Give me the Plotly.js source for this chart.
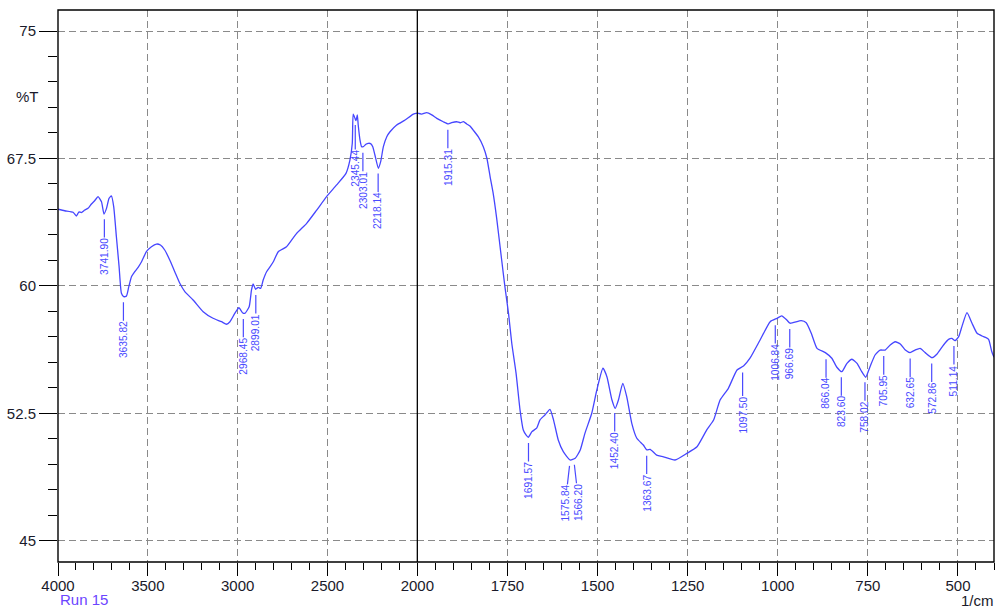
<!DOCTYPE html>
<html>
<head>
<meta charset="utf-8">
<script src="https://cdn.plot.ly/plotly-3.0.1.min.js"></script>
<style>
  html, body { margin: 0; padding: 0; background: #fff; }
  #chart { width: 998px; height: 611px; }
</style>
</head>
<body>
<div id="chart"></div>
<script>
// ---- Data: high wavenumber part (4000 -> 2000 1/cm) ----
const leftWavenumber = [4000, 3963, 3916, 3898, 3883, 3870, 3851, 3833, 3814, 3796, 3777, 3758, 3744, 3730, 3716, 3703, 3690, 3675, 3660, 3647, 3634, 3619, 3606, 3591, 3573, 3554, 3535, 3508, 3480, 3452, 3430, 3406, 3378, 3350, 3322, 3294, 3248, 3192, 3137, 3090, 3062, 3043, 3016, 2993, 2973, 2960, 2936, 2923, 2914, 2900, 2886, 2872, 2858, 2839, 2821, 2800, 2774, 2728, 2672, 2616, 2560, 2505, 2449, 2397, 2375, 2362, 2357, 2347, 2341, 2334, 2329, 2319, 2310, 2301, 2286, 2273, 2260, 2248, 2236, 2217, 2204, 2189, 2170, 2152, 2115, 2068, 2022, 2000];
const leftTransmittance = [64.51, 64.42, 64.33, 64.11, 64.36, 64.31, 64.46, 64.56, 64.82, 65.01, 65.25, 64.95, 64.23, 64.56, 65.15, 65.29, 64.66, 62.89, 61.13, 59.56, 59.36, 59.40, 59.95, 60.54, 60.83, 61.09, 61.42, 62.01, 62.30, 62.46, 62.40, 62.11, 61.52, 60.83, 60.15, 59.66, 59.17, 58.48, 58.09, 57.89, 57.74, 57.89, 58.38, 58.71, 58.42, 58.38, 58.77, 59.76, 60.11, 59.80, 59.91, 59.85, 60.34, 60.83, 61.10, 61.45, 62.01, 62.30, 63.09, 63.68, 64.46, 65.25, 65.94, 66.62, 67.41, 68.39, 70.11, 69.86, 69.72, 70.06, 69.47, 68.58, 68.19, 68.19, 68.33, 68.39, 68.37, 68.19, 67.70, 66.92, 67.31, 68.19, 68.78, 69.07, 69.47, 69.76, 70.11, 70.16];

// ---- Data: low wavenumber part (2000 -> 400 1/cm) ----
const rightWavenumber = [2000, 1988, 1974, 1960, 1946, 1928, 1914, 1905, 1891, 1881, 1872, 1863, 1854, 1845, 1831, 1817, 1807, 1798, 1790, 1780, 1766, 1757, 1747, 1738, 1726, 1715, 1706, 1698, 1692, 1682, 1669, 1660, 1646, 1632, 1622, 1609, 1595, 1576, 1562, 1548, 1535, 1516, 1502, 1485, 1474, 1460, 1451, 1442, 1430, 1419, 1405, 1391, 1373, 1363, 1354, 1336, 1317, 1285, 1252, 1224, 1197, 1178, 1160, 1137, 1113, 1095, 1077, 1049, 1021, 1002, 989, 975, 966, 935, 921, 907, 891, 868, 850, 836, 822, 808, 794, 780, 767, 756, 744, 730, 716, 702, 688, 674, 660, 646, 633, 619, 605, 591, 572, 558, 540, 526, 517, 508, 498, 489, 475, 461, 447, 433, 424, 415, 406, 400];
const rightTransmittance = [70.16, 70.11, 70.19, 70.06, 69.86, 69.66, 69.53, 69.60, 69.66, 69.60, 69.66, 69.53, 69.41, 69.17, 68.78, 68.19, 67.51, 66.42, 65.50, 64.00, 61.52, 59.95, 58.38, 56.62, 54.85, 52.69, 51.52, 51.22, 51.09, 51.42, 51.62, 52.10, 52.40, 52.73, 52.10, 50.93, 50.24, 49.75, 49.85, 50.34, 51.32, 52.50, 53.87, 55.15, 54.65, 53.28, 52.79, 53.28, 54.26, 53.48, 51.91, 51.03, 50.63, 50.34, 50.38, 50.04, 49.94, 49.75, 50.14, 50.53, 51.52, 52.10, 53.28, 53.97, 55.05, 55.28, 55.74, 56.81, 57.89, 58.09, 58.23, 57.99, 57.80, 57.95, 57.83, 57.21, 56.32, 56.07, 55.74, 55.21, 54.95, 55.44, 55.68, 55.44, 54.95, 54.62, 55.24, 55.93, 56.22, 56.22, 56.52, 56.71, 56.58, 56.22, 56.07, 56.22, 56.32, 56.07, 55.77, 55.99, 56.52, 56.85, 56.91, 56.77, 57.01, 57.60, 58.42, 57.80, 57.21, 57.05, 56.97, 56.85, 56.12, 55.80];

// ---- Peak picks ----
const peakWavenumbers = [3741.90, 3635.82, 2968.45, 2899.01, 2345.44, 2303.01, 2218.14, 1915.31, 1691.57, 1575.84, 1566.20, 1452.40, 1363.67, 1097.50, 1006.84, 966.69, 866.04, 823.60, 758.02, 705.95, 632.65, 572.86, 511.14];

// ---- Tick labels ----
const leftTickVals = [4000, 3500, 3000, 2500, 2000];
const rightTickVals = [1750, 1500, 1250, 1000, 750, 500];
const yTickVals = [45, 52.5, 60, 67.5, 75];
const yTickText = ['45', '52.5', '60', '67.5', '75'];

// ---- Styles ----
const CURVE = '#4646ff';
const LABEL = '#4a4aff';
const GRID = '#8a8a8a';
const SPLIT = 0.3839;
const LABEL_FS = 10.2;

function interpT(w) {
  const xs = w >= 2000 ? leftWavenumber : rightWavenumber;
  const ys = w >= 2000 ? leftTransmittance : rightTransmittance;
  for (let i = 0; i < xs.length - 1; i++) {
    const a = xs[i], b = xs[i + 1];
    if (w <= a && w >= b) {
      const t = (a - w) / (a - b);
      return ys[i] + t * (ys[i + 1] - ys[i]);
    }
  }
  return ys[ys.length - 1];
}

// approximate rendered length of a rotated numeric label (Liberation Sans metrics)
function textLen(s) {
  let em = 0;
  for (const c of s) em += (c === '.') ? 0.278 : 0.556;
  return em * LABEL_FS;
}

const traces = [
  { x: leftWavenumber, y: leftTransmittance, xaxis: 'x', yaxis: 'y', type: 'scatter', mode: 'lines',
    line: { color: CURVE, width: 1.3, shape: 'spline', smoothing: 0.5 }, hoverinfo: 'skip' },
  { x: rightWavenumber, y: rightTransmittance, xaxis: 'x2', yaxis: 'y', type: 'scatter', mode: 'lines',
    line: { color: CURVE, width: 1.3, shape: 'spline', smoothing: 0.5 }, hoverinfo: 'skip' }
];

// [x offset px, distance from curve to top of text px]
const specialOffset = { '2345.44': [0, 31], '1097.50': [0, 30], '1575.84': [-5, 25], '1566.20': [5, 25] };

const annotations = peakWavenumbers.map(w => {
  const txt = w.toFixed(2);
  const off = specialOffset[txt] || [0, 25];
  return {
    x: w, y: interpT(w), xref: w >= 2000 ? 'x' : 'x2', yref: 'y',
    text: txt, textangle: -90, showarrow: true, arrowhead: 0, arrowwidth: 1.2, arrowcolor: LABEL,
    ax: off[0], ay: off[1] + textLen(txt) / 2, standoff: 6,
    font: { family: 'Liberation Sans, Arial, sans-serif', size: LABEL_FS, color: LABEL }, borderpad: 0
  };
});

annotations.push(
  { xref: 'paper', yref: 'paper', x: -0.0326, y: 0.8442, xanchor: 'center', yanchor: 'middle',
    text: '%T', showarrow: false, font: { size: 15, color: '#1a1a2a' } },
  { xref: 'paper', yref: 'paper', x: 1.002, y: -0.0695, xanchor: 'right', yanchor: 'middle',
    text: '1/cm', showarrow: false, font: { size: 15, color: '#1a1a2a' } },
  { xref: 'paper', yref: 'paper', x: 0.0, y: -0.068, xanchor: 'left', yanchor: 'middle',
    text: 'Run 15', showarrow: false, font: { size: 15, color: '#6b45ff' } }
);

const axisCommon = {
  ticks: 'outside', tickcolor: '#000', tickwidth: 1,
  showgrid: true, gridcolor: GRID, griddash: '7px,4px', gridwidth: 1,
  zeroline: false, showline: false, anchor: 'y',
  tickfont: { size: 15, color: '#1a1a2a' }
};

const layout = {
  width: 998, height: 611,
  margin: { l: 58, r: 4, t: 10, b: 49 },
  paper_bgcolor: '#fff', plot_bgcolor: '#fff',
  showlegend: false,
  font: { family: 'Liberation Sans, Arial, sans-serif', size: 15, color: '#1a1a2a' },
  xaxis: Object.assign({}, axisCommon, {
    domain: [0, SPLIT], range: [4000, 2000], tickmode: 'array', tickvals: leftTickVals, ticklen: 13,
    ticklabelstandoff: -3,
    minor: { tickmode: 'linear', tick0: 0, dtick: 100, ticks: 'outside', ticklen: 7, tickcolor: '#000', showgrid: false }
  }),
  xaxis2: Object.assign({}, axisCommon, {
    domain: [SPLIT, 1], range: [2000, 400], tickmode: 'array', tickvals: rightTickVals, ticklen: 13,
    ticklabelstandoff: -3,
    minor: { tickmode: 'linear', tick0: 0, dtick: 50, ticks: 'outside', ticklen: 7, tickcolor: '#000', showgrid: false }
  }),
  yaxis: Object.assign({}, axisCommon, {
    anchor: 'x', range: [43.746, 76.236], tickmode: 'array', tickvals: yTickVals, ticktext: yTickText, ticklen: 18,
    minor: { tickmode: 'linear', tick0: 0, dtick: 1.5, ticks: 'outside', ticklen: 9, tickcolor: '#000', showgrid: false }
  }),
  shapes: [
    { type: 'rect', xref: 'paper', yref: 'paper', x0: 0, x1: 1, y0: 0, y1: 1, line: { color: '#000', width: 1.4 }, layer: 'above' },
    { type: 'line', xref: 'paper', yref: 'paper', x0: SPLIT, x1: SPLIT, y0: 0, y1: 1, line: { color: '#000', width: 1.3 }, layer: 'above' }
  ],
  annotations: annotations
};

Plotly.newPlot('chart', traces, layout, { staticPlot: true, displayModeBar: false });
</script>
</body>
</html>
